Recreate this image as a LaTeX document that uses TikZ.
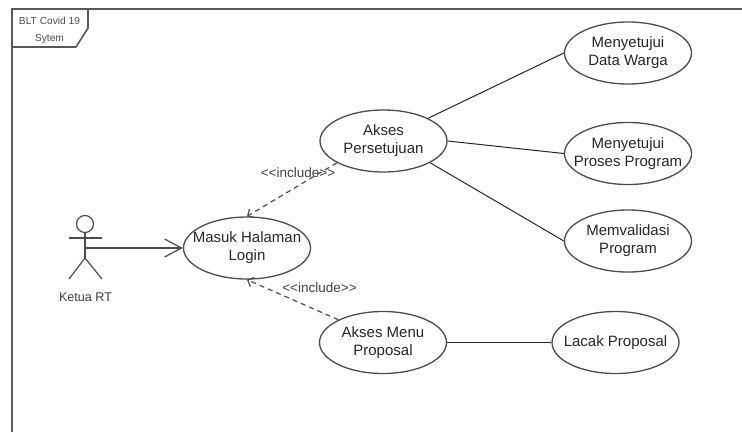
\documentclass[tikz,border=0pt]{standalone}
\usepackage{fontspec}
\setmainfont{Liberation Sans}
\usetikzlibrary{arrows.meta, shapes.geometric}

\tikzset{
  usecase/.style={draw=black!70, line width=1.3pt, ellipse, minimum width=127pt, minimum height=62pt, inner sep=-30pt, align=center, font=\fontsize{15}{18}\selectfont, text=black!85},
  assoc/.style={draw=black!85, line width=1pt},
  include/.style={draw=black!70, line width=1.2pt, dash pattern=on 5pt off 4pt, -{Straight Barb[length=5pt,width=10pt]}},
  tag/.style={font=\fontsize{13.5}{15}\selectfont, text=black!75, inner sep=0pt},
  small/.style={font=\fontsize{10.2}{12}\selectfont, text=black!70, inner sep=0pt}
}

\begin{document}
\begin{tikzpicture}[x=1pt, y=-1pt]
  \useasboundingbox (0, 0) rectangle (742, 432);

  \draw[black!65, line width=1.6pt] (12, 432) -- (12, 9) -- (742, 9);
  \draw[black!65, line width=1.6pt] (12, 47) -- (76, 47) -- (88, 28) -- (88, 9);
  \node[small] (frameA) at (49.5, 21) {BLT Covid 19};
  \node[small] (frameB) at (49.5, 39) {Sytem};

  % actor
  \draw[black!70, line width=1.2pt] (85, 224) circle (8.5);
  \coordinate (hip) at (85, 258);
  \coordinate (chest) at (85, 248);
  \draw[black!70, line width=1.2pt] (85, 232.5) -- (hip);
  \draw[black!70, line width=1.2pt] (69, 238) -- (102, 238);
  \draw[black!70, line width=1.2pt] (69, 279) -- (hip) -- (102, 279);
  \node[font=\fontsize{12.6}{15}\selectfont, text=black!75, inner sep=0pt] (actor) at (85.5, 297) {Ketua RT};

  \node[usecase] (login) at (247, 248) {Masuk Halaman\\Login};
  \node[usecase] (persetujuan) at (383.5, 141) {Akses\\Persetujuan};
  \node[usecase] (menu) at (383, 342.5) {Akses Menu\\Proposal};
  \node[usecase] (warga) at (628, 53) {Menyetujui\\Data Warga};
  \node[usecase] (proses) at (628, 153.5) {Menyetujui\\Proses Program};
  \node[usecase] (validasi) at (628, 241) {Memvalidasi\\Program};
  \node[usecase] (lacak) at (615.5, 342.5) {Lacak Proposal};

  \draw[black!70, line width=1.2pt, -{Straight Barb[length=17pt,width=18pt]}] (chest) -- (login.west);
  \draw[include] (persetujuan.205) -- (login.north);
  \draw[include] (menu.153) -- (login.south);
  \draw[assoc] (persetujuan.27) -- (warga.west);
  \draw[assoc] (persetujuan.east) -- (proses.west);
  \draw[assoc] (persetujuan.-25) -- (validasi.west);
  \draw[assoc] (menu.east) -- (lacak.west);

  \node[tag] (tagA) at (298, 173) {<{}<include>{}>};
  \node[tag] (tagB) at (319.5, 288) {<{}<include>{}>};
\end{tikzpicture}
\end{document}
